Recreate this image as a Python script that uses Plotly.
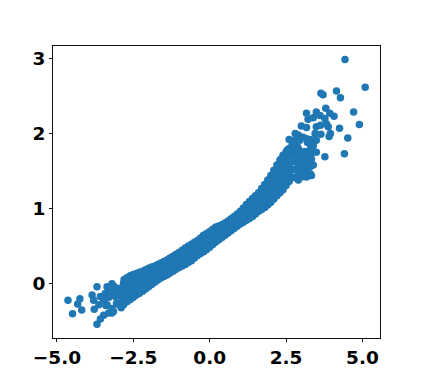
import plotly.graph_objects as go

x_band = [-2.8,-2.7,-2.6,-2.5,-2.4,-2.3,-2.2,-2.1,-2.0,-1.9,-1.8,-1.7,-1.6,-1.5,-1.4,-1.3,-1.2,-1.1,-1.0,-0.9,-0.8,-0.7,-0.6,-0.5,-0.4,-0.3,-0.2,-0.1,0.0,0.1,0.2,0.3,0.4,0.5,0.6,0.7,0.8,0.9,1.0,1.1,1.2,1.3,1.4,1.5,1.6,1.7,1.8,1.9,2.0,2.1,2.2,2.3,2.4,2.5,2.6,2.7]
y_lower = [-.27,-.245,-.22,-.19,-.16,-.135,-.11,-.08,-.05,-.02,.01,.04,.07,.09,.11,.135,.16,.185,.21,.23,.25,.275,.30,.335,.37,.395,.42,.45,.48,.515,.55,.58,.61,.64,.67,.70,.73,.76,.79,.815,.84,.865,.89,.925,.96,.985,1.01,1.045,1.08,1.125,1.17,1.21,1.25,1.305,1.36,1.41]
y_q1 = [-.19,-.165,-.14,-.115,-.09,-.065,-.04,-.015,.01,.04,.065,.09,.12,.14,.16,.185,.21,.235,.26,.28,.305,.33,.355,.39,.42,.45,.475,.505,.53,.57,.60,.63,.65,.68,.71,.74,.77,.80,.83,.86,.89,.92,.95,.985,1.02,1.055,1.09,1.13,1.17,1.22,1.27,1.315,1.36,1.415,1.47,1.52]
y_mid = [-.11,-.085,-.06,-.04,-.015,.005,.025,.05,.075,.10,.12,.145,.17,.19,.21,.235,.26,.285,.31,.335,.36,.385,.41,.44,.47,.50,.53,.56,.585,.62,.65,.675,.695,.72,.75,.78,.81,.84,.875,.91,.945,.98,1.01,1.05,1.085,1.125,1.165,1.21,1.26,1.32,1.375,1.43,1.48,1.53,1.58,1.63]
y_q3 = [-.03,-.005,.02,.04,.06,.075,.09,.115,.14,.16,.175,.20,.22,.24,.26,.285,.31,.335,.36,.39,.415,.44,.465,.49,.52,.55,.585,.61,.64,.67,.70,.72,.74,.76,.79,.82,.85,.88,.92,.96,1.00,1.035,1.07,1.11,1.15,1.195,1.24,1.295,1.35,1.415,1.48,1.54,1.60,1.645,1.69,1.74]
y_upper = [.05,.075,.10,.115,.13,.145,.16,.18,.20,.215,.23,.25,.27,.29,.31,.335,.36,.385,.41,.44,.47,.495,.52,.545,.57,.605,.64,.665,.69,.72,.75,.765,.78,.805,.83,.86,.89,.925,.96,1.005,1.05,1.09,1.13,1.17,1.21,1.265,1.32,1.38,1.44,1.51,1.58,1.645,1.71,1.755,1.80,1.85]

x_body = [2.8,2.8,2.8,2.8,2.9,2.9,2.9,2.9,3.0,3.0,3.0,3.0,3.1,3.1,3.1,3.2,3.2,3.2,3.3,3.3,2.6,2.7,2.7,2.8,2.8,2.9,3.0,3.1,3.2,3.2,3.3,3.3,3.3,3.35,3.45]
y_body = [1.42,1.52,1.62,1.72,1.42,1.50,1.60,1.70,1.42,1.50,1.58,1.68,1.46,1.54,1.66,1.44,1.52,1.62,1.46,1.56,1.92,1.80,1.90,1.82,2.00,1.80,1.74,1.76,1.72,1.88,1.70,1.80,1.92,1.80,2.00]

x_right = [4.43,5.09,4.15,3.64,3.71,4.28,3.80,4.71,3.17,3.49,3.93,4.07,3.22,3.39,3.61,3.77,3.82,3.88,4.90,4.25,3.49,3.63,3.00,3.17,3.95,3.91,3.64,4.52,3.49,3.77,4.41,2.90,2.82,3.06,2.95,3.17,2.86,3.39,2.54,3.49,3.33,3.28,2.34,3.39,3.33,3.17,3.08,2.90]
y_right = [2.99,2.62,2.57,2.54,2.52,2.48,2.34,2.29,2.27,2.29,2.27,2.23,2.19,2.21,2.24,2.20,2.13,2.09,2.12,2.07,2.09,2.11,2.10,2.08,2.00,1.96,1.99,1.94,1.91,1.69,1.73,1.98,1.93,1.95,1.91,1.93,1.84,1.84,1.78,1.75,1.66,1.75,1.66,1.58,1.44,1.42,1.46,1.38]

x_left = [-4.64,-4.49,-4.25,-4.32,-4.19,-3.69,-3.85,-3.80,-3.78,-3.63,-3.69,-3.58,-3.47,-3.31,-3.42,-3.36,-3.20,-3.47,-3.36,-3.09,-2.93,-2.82,-3.20,-2.98,-2.82,-3.58,-3.25,-3.03,-3.20,-3.30,-3.12,-3.05,-2.95,-2.88,-3.15,-2.90,-3.40]
y_left = [-.23,-.41,-.21,-.28,-.36,-.05,-.16,-.23,-.35,-.29,-.55,-.48,-.43,-.40,-.14,-.05,-.01,-.23,-.29,-.18,-.07,.00,-.34,-.29,-.29,-.18,-.12,-.12,-.40,-.19,-.05,-.27,-.16,-.22,-.38,-.33,-.30]

x_tick_values = [-5, -2.5, 0, 2.5, 5]
x_tick_labels = ["\u22125.0", "\u22122.5", "0.0", "2.5", "5.0"]
y_tick_values = [0, 1, 2, 3]
y_tick_labels = ["0", "1", "2", "3"]

xs = x_band * 5 + x_body + x_right + x_left
ys = y_lower + y_q1 + y_mid + y_q3 + y_upper + y_body + y_right + y_left

fig = go.Figure(go.Scatter(x=xs, y=ys, mode="markers",
                           marker=dict(color="#1f77b4", size=7.5, line=dict(width=0)),
                           hoverinfo="skip"))

font = dict(family="DejaVu Sans", size=18.5, color="black", weight="bold")
axis = dict(showgrid=False, zeroline=False, showline=True, mirror=True, linecolor="#111111",
            linewidth=1, ticks="outside", ticklen=3, tickwidth=1, tickcolor="#111111",
            tickfont=font, automargin=False)
fig.update_layout(
    width=423, height=380, autosize=False, showlegend=False,
    paper_bgcolor="white", plot_bgcolor="white",
    margin=dict(l=52.5, r=42.7, t=45.5, b=42, pad=0),
    xaxis=dict(range=[-5.13, 5.575], tickmode="array", tickvals=x_tick_values, ticktext=x_tick_labels, **axis),
    yaxis=dict(range=[-0.734, 3.171], tickmode="array", tickvals=y_tick_values, ticktext=y_tick_labels, **axis),
)
fig.write_html("out.html", config=dict(displayModeBar=False),
               post_script="document.body.style.margin='0';document.body.style.overflow='hidden';")
